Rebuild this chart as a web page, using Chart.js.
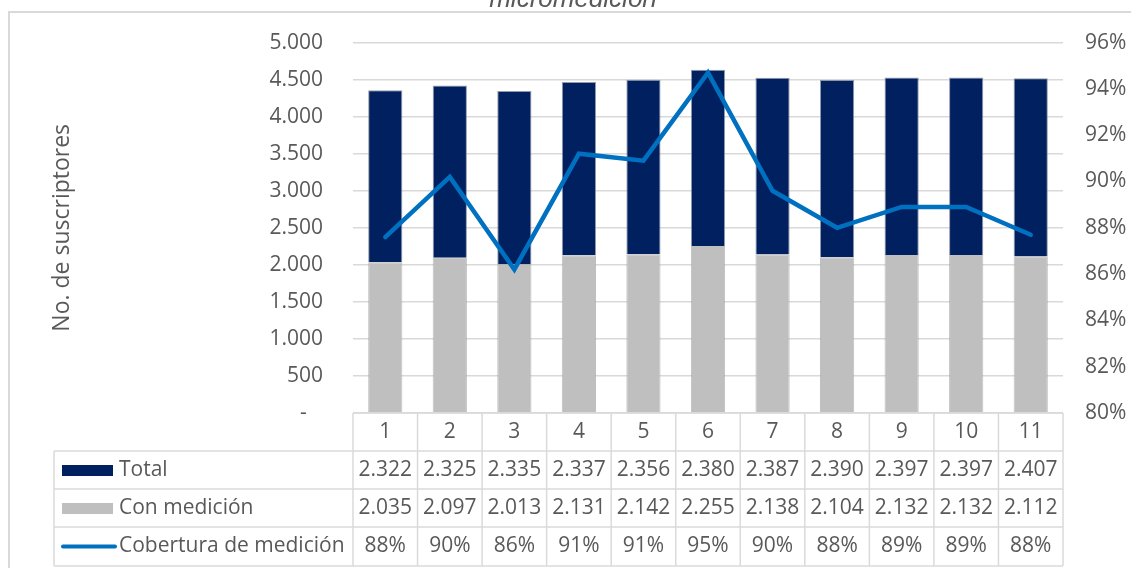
<!DOCTYPE html>
<html>
<head>
<meta charset="utf-8">
<script src="https://cdn.jsdelivr.net/npm/chart.js@4.4.0/dist/chart.umd.min.js"></script>
<style>
  html, body { margin: 0; padding: 0; background: #fff; }
  canvas { display: block; }
</style>
</head>
<body>
<canvas id="grafico" width="1131" height="568"></canvas>
<script>
const categorias = ["1", "2", "3", "4", "5", "6", "7", "8", "9", "10", "11"];
const total = [2322, 2325, 2335, 2337, 2356, 2380, 2387, 2390, 2397, 2397, 2407];
const conMedicion = [2035, 2097, 2013, 2131, 2142, 2255, 2138, 2104, 2132, 2132, 2112];
const cobertura = [0.876, 0.902, 0.862, 0.912, 0.909, 0.947, 0.896, 0.880, 0.889, 0.889, 0.877];

const gris = "#595959";
const fuente = "'Open Sans', 'Noto Sans', sans-serif";

function miles(v) {
    return String(v).replace(/\B(?=(\d{3})+(?!\d))/g, ".");
}
function pct(v) {
    return Math.round(v * 100) + "%";
}

// tabla de datos debajo del grafico + titulo + borde
const tablaPlugin = {
    id: "tabla",
    afterDraw(chart) {
        const ctx = chart.ctx;
        const ca = chart.chartArea;
        const x = chart.scales.x;
        const n = categorias.length;
        const colW = (ca.right - ca.left) / n;
        const izq = 54;
        const filas = [ca.bottom, 451, 489, 527, 566];

        ctx.save();
        // borde exterior
        ctx.strokeStyle = "#d9d9d9";
        ctx.lineWidth = 2;
        ctx.strokeRect(9, 12, 1140, 600);

        // titulo (cortado arriba)
        ctx.fillStyle = gris;
        ctx.font = "italic 26px 'Liberation Sans', Arial, sans-serif";
        ctx.textAlign = "center";
        ctx.textBaseline = "alphabetic";
        ctx.fillText("micromedición", 573, 7);

        // lineas de la tabla
        ctx.strokeStyle = "#dadada";
        ctx.lineWidth = 1.5;
        ctx.beginPath();
        for (let i = 0; i <= n; i++) {
            const xx = ca.left + i * colW;
            ctx.moveTo(xx, filas[0]);
            ctx.lineTo(xx, filas[4]);
        }
        ctx.moveTo(izq, filas[1]);
        ctx.lineTo(izq, filas[4]);
        ctx.moveTo(ca.left, filas[0]);
        ctx.lineTo(ca.right, filas[0]);
        for (let r = 1; r <= 4; r++) {
            ctx.moveTo(izq, filas[r]);
            ctx.lineTo(ca.right, filas[r]);
        }
        ctx.stroke();

        // textos
        ctx.font = "21px " + fuente;
        ctx.fillStyle = gris;
        ctx.textAlign = "center";
        ctx.textBaseline = "middle";
        for (let i = 0; i < n; i++) {
            const cx = x.getPixelForValue(i);
            ctx.fillText(categorias[i], cx, (filas[0] + filas[1]) / 2);
            ctx.fillText(miles(total[i]), cx, (filas[1] + filas[2]) / 2);
            ctx.fillText(miles(conMedicion[i]), cx, (filas[2] + filas[3]) / 2);
            ctx.fillText(pct(cobertura[i]), cx, (filas[3] + filas[4]) / 2);
        }

        // leyenda
        const y1 = (filas[1] + filas[2]) / 2;
        const y2 = (filas[2] + filas[3]) / 2;
        const y3 = (filas[3] + filas[4]) / 2;
        ctx.fillStyle = "#002060";
        ctx.fillRect(62, y1 - 5, 51, 11);
        ctx.fillStyle = "#bfbfbf";
        ctx.fillRect(62, y2 - 5, 51, 11);
        ctx.strokeStyle = "#0070c0";
        ctx.lineWidth = 4;
        ctx.lineCap = "round";
        ctx.beginPath();
        ctx.moveTo(63, y3);
        ctx.lineTo(115, y3);
        ctx.stroke();

        ctx.fillStyle = gris;
        ctx.textAlign = "left";
        ctx.fillText("Total", 119, y1);
        ctx.fillText("Con medición", 119, y2);
        ctx.fillText("Cobertura de medición", 119, y3);
        ctx.restore();
    }
};

new Chart(document.getElementById("grafico").getContext("2d"), {
    type: "bar",
    data: {
        labels: categorias,
        datasets: [
            {
                label: "Cobertura de medición",
                type: "line",
                data: cobertura,
                yAxisID: "y1",
                borderColor: "#0070c0",
                borderWidth: 4.5,
                borderCapStyle: "round",
                pointRadius: 0,
                tension: 0,
                fill: false,
                order: 0
            },
            {
                label: "Con medición",
                data: conMedicion,
                backgroundColor: "#bfbfbf",
                borderColor: "rgba(150,150,150,0.6)",
                borderWidth: 1,
                stack: "s",
                order: 1
            },
            {
                label: "Total",
                data: total,
                backgroundColor: "#002060",
                borderColor: "rgba(120,130,150,0.8)",
                borderWidth: 1,
                stack: "s",
                order: 1
            }
        ]
    },
    options: {
        responsive: false,
        animation: false,
        devicePixelRatio: 1,
        layout: { padding: { top: 41, bottom: 155, left: 0, right: 0 } },
        datasets: { bar: { barPercentage: 0.53, categoryPercentage: 1 } },
        plugins: {
            legend: { display: false },
            tooltip: { enabled: false },
            title: { display: false }
        },
        scales: {
            x: { display: false, stacked: true },
            y: {
                position: "left",
                stacked: true,
                min: 0,
                max: 5000,
                ticks: {
                    stepSize: 500,
                    color: gris,
                    font: { family: fuente, size: 21 },
                    padding: 30,
                    callback: v => (v === 0 ? "-   " : miles(v))
                },
                grid: { color: "#d9d9d9", lineWidth: 1.5, drawTicks: false },
                border: { display: false },
                title: {
                    display: true,
                    text: "No. de suscriptores",
                    color: gris,
                    font: { family: fuente, size: 23 },
                    padding: { top: 49, bottom: 0 }
                },
                afterFit(scale) { scale.width = 353; }
            },
            y1: {
                position: "right",
                min: 0.8,
                max: 0.96,
                ticks: {
                    stepSize: 0.02,
                    color: gris,
                    font: { family: fuente, size: 21 },
                    padding: 22,
                    callback: v => pct(v)
                },
                grid: { display: false, drawTicks: false },
                border: { display: false },
                afterFit(scale) { scale.width = 68; }
            }
        }
    },
    plugins: [tablaPlugin]
});
</script>
</body>
</html>
